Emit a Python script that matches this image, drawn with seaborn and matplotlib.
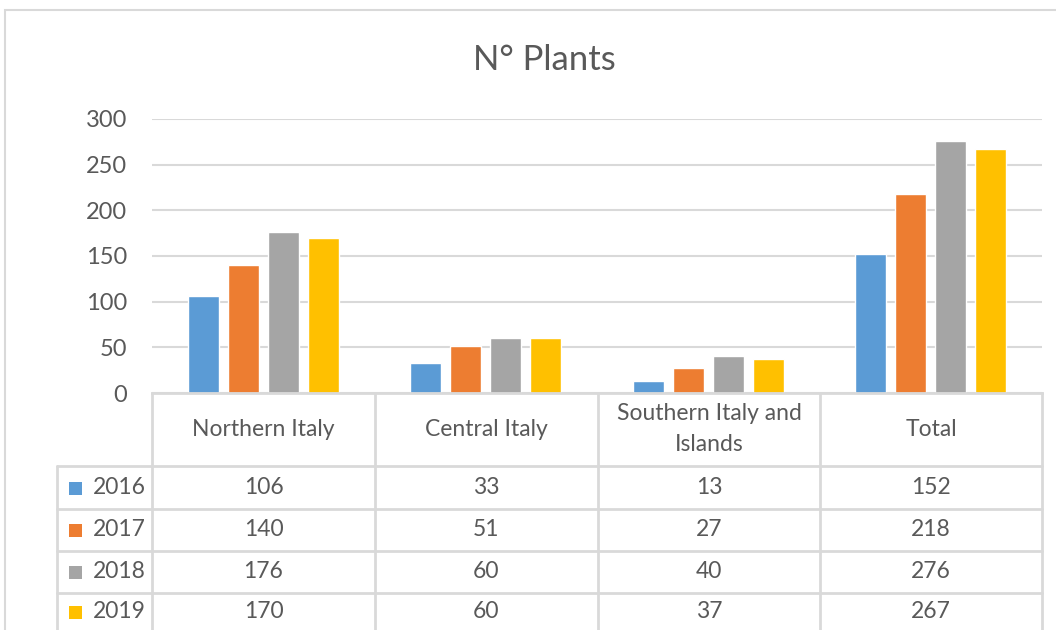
import pandas as pd
import seaborn as sns
import matplotlib.pyplot as plt
from matplotlib.lines import Line2D
from matplotlib.patches import Rectangle

# Datos
regions = ["Northern Italy", "Central Italy", "Southern Italy and\nIslands", "Total"]
years = ["2016", "2017", "2018", "2019"]
plants_2016 = [106, 33, 13, 152]
plants_2017 = [140, 51, 27, 218]
plants_2018 = [176, 60, 40, 276]
plants_2019 = [170, 60, 37, 267]
colors = ["#5B9BD5", "#ED7D31", "#A5A5A5", "#FFC000"]

series = {"2016": plants_2016, "2017": plants_2017, "2018": plants_2018, "2019": plants_2019}
rows = []
for year in years:
    for region, value in zip(regions, series[year]):
        rows.append({"Region": region, "Year": year, "Plants": value})
df = pd.DataFrame(rows)

W, H = 1056, 630
sns.set_style("white")
plt.rcParams["font.family"] = ["Lato", "DejaVu Sans"]
text_color = "#595959"
line_color = "#D9D9D9"
table_size = 16.5

fig = plt.figure(figsize=(W / 100, H / 100), dpi=100)


def fx(px):
    return px / W


def fy(py):
    return 1 - py / H


ax = fig.add_axes([fx(152), fy(393), fx(1042) - fx(152), fy(119) - fy(393)])
sns.barplot(data=df, x="Region", y="Plants", hue="Year", palette=colors,
            width=0.72, gap=0.22, ax=ax, legend=False, saturation=1)

ax.set_ylim(0, 300)
ax.set_xlim(-0.5, len(regions) - 0.5)
ax.set_yticks(range(0, 301, 50))
ax.yaxis.grid(True, color=line_color, linewidth=1.5)
ax.set_axisbelow(True)
ax.set_xticks([])
ax.set_xlabel("")
ax.set_ylabel("")
ax.tick_params(axis="y", length=0, pad=18, labelsize=17, labelcolor=text_color)
for side in ["top", "right", "left"]:
    ax.spines[side].set_visible(False)
ax.spines["bottom"].set_color(line_color)
ax.spines["bottom"].set_linewidth(2)

# Marco del grafico
fig.add_artist(Rectangle((fx(5), fy(640)), fx(1060) - fx(5), fy(10) - fy(640),
                         transform=fig.transFigure, fill=False,
                         edgecolor=line_color, linewidth=1.5))

fig.text(fx(544), fy(60), "N° Plants", ha="center", va="center",
         fontsize=25, color=text_color)

# Tabla de datos
col_edges = [152, 375, 598, 820, 1042]
row_edges = [393, 466, 509, 551, 593, 635]


def hline(y, x0, x1):
    fig.add_artist(Line2D([fx(x0), fx(x1)], [fy(y), fy(y)], transform=fig.transFigure,
                          color=line_color, linewidth=2))


def vline(x, y0, y1):
    fig.add_artist(Line2D([fx(x), fx(x)], [fy(y0), fy(y1)], transform=fig.transFigure,
                          color=line_color, linewidth=2))


for x in col_edges:
    vline(x, 393, 635)
vline(57, 466, 635)
for y in row_edges[1:-1]:
    hline(y, 57, 1042)

for i, region in enumerate(regions):
    cx = (col_edges[i] + col_edges[i + 1]) / 2
    fig.text(fx(cx), fy(429), region, ha="center", va="center", fontsize=table_size,
             color=text_color, linespacing=1.55)

for r, year in enumerate(years):
    cy = (row_edges[r + 1] + row_edges[r + 2]) / 2
    if r == len(years) - 1:
        cy = 612
    fig.add_artist(Rectangle((fx(69), fy(cy + 7)), fx(82) - fx(69), fy(cy - 6) - fy(cy + 7),
                             transform=fig.transFigure, facecolor=colors[r], edgecolor="none"))
    fig.text(fx(146), fy(cy), year, ha="right", va="center", fontsize=table_size,
             color=text_color)
    for i, value in enumerate(series[year]):
        cx = (col_edges[i] + col_edges[i + 1]) / 2
        fig.text(fx(cx), fy(cy), str(value), ha="center", va="center",
                 fontsize=table_size, color=text_color)

fig.savefig("out.png", dpi=100)
